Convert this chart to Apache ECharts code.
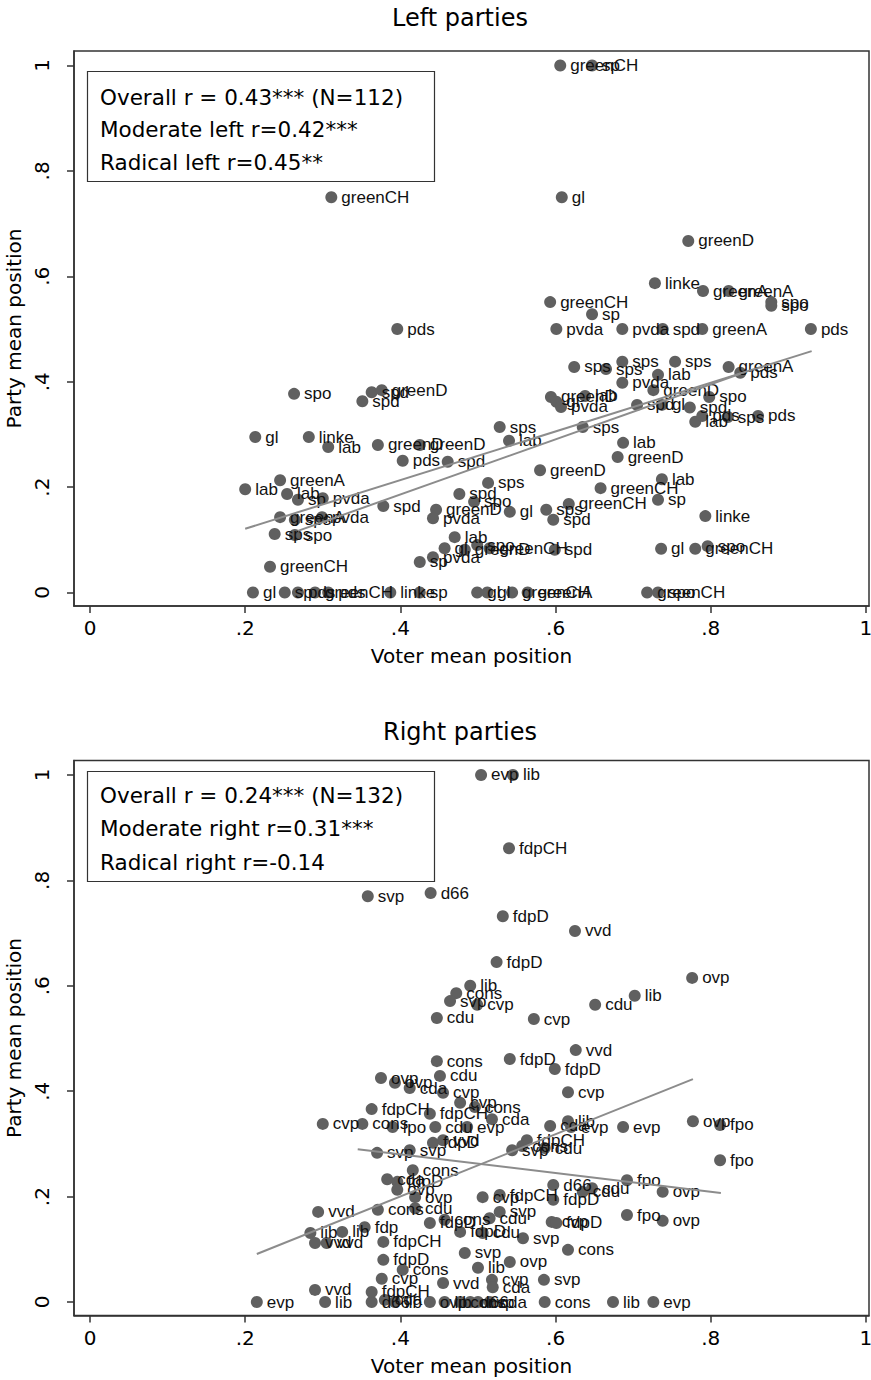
<!DOCTYPE html>
<html>
<head>
<meta charset="utf-8">
<script src="https://cdn.jsdelivr.net/npm/echarts@6/dist/echarts.min.js"></script>
<style>
  html, body { margin: 0; padding: 0; background: #fff; }
  #chart { width: 871px; height: 1380px; }
</style>
</head>
<body>
<div id="chart"></div>
<script>
// tick positions shared by both panels
const ticks = [0, 0.2, 0.4, 0.6, 0.8, 1];

// left parties: voter mean (x), party mean (y), party label
const leftX = [0.606, 0.647, 0.311, 0.608, 0.771, 0.728, 0.790, 0.823, 0.878, 0.878,
  0.593, 0.647, 0.396, 0.601, 0.686, 0.738, 0.789, 0.929, 0.624, 0.665,
  0.686, 0.754, 0.732, 0.686, 0.726, 0.823, 0.838, 0.798, 0.773, 0.780,
  0.789, 0.822, 0.861, 0.705, 0.737, 0.594, 0.601, 0.607, 0.638, 0.528,
  0.540, 0.635, 0.687, 0.680, 0.580, 0.658, 0.737, 0.732, 0.513, 0.617,
  0.476, 0.495, 0.541, 0.588, 0.597, 0.599, 0.736, 0.780, 0.796, 0.793,
  0.210, 0.251, 0.268, 0.290, 0.307, 0.387, 0.425, 0.499, 0.512, 0.544,
  0.564, 0.718, 0.732, 0.200, 0.245, 0.254, 0.268, 0.300, 0.245, 0.264,
  0.299, 0.238, 0.264, 0.232, 0.378, 0.446, 0.442, 0.425, 0.442, 0.457,
  0.470, 0.483, 0.499, 0.515, 0.213, 0.282, 0.307, 0.371, 0.425, 0.403,
  0.461, 0.263, 0.363, 0.376, 0.351];
const leftY = [1.000, 1.000, 0.750, 0.750, 0.667, 0.587, 0.572, 0.572, 0.551, 0.544,
  0.551, 0.528, 0.500, 0.500, 0.500, 0.500, 0.500, 0.500, 0.428, 0.424,
  0.438, 0.438, 0.413, 0.398, 0.384, 0.428, 0.417, 0.371, 0.351, 0.324,
  0.335, 0.333, 0.335, 0.356, 0.356, 0.371, 0.362, 0.352, 0.373, 0.314,
  0.288, 0.314, 0.284, 0.257, 0.232, 0.198, 0.215, 0.176, 0.208, 0.168,
  0.187, 0.172, 0.153, 0.157, 0.138, 0.081, 0.083, 0.083, 0.088, 0.145,
  0, 0, 0, 0, 0, 0, 0, 0, 0, 0,
  0, 0, 0, 0.196, 0.213, 0.187, 0.176, 0.179, 0.143, 0.138,
  0.143, 0.111, 0.109, 0.049, 0.164, 0.157, 0.141, 0.058, 0.067, 0.084,
  0.105, 0.081, 0.090, 0.084, 0.295, 0.295, 0.276, 0.280, 0.280, 0.250,
  0.248, 0.377, 0.380, 0.384, 0.363];
const leftNames = ['greenCH', 'sp', 'greenCH', 'gl', 'greenD', 'linke', 'greenA', 'greenA', 'spo', 'spo',
  'greenCH', 'sp', 'pds', 'pvda', 'pvda', 'spd', 'greenA', 'pds', 'sps', 'sps',
  'sps', 'sps', 'lab', 'pvda', 'greenD', 'greenA', 'pds', 'spo', 'spd', 'lab',
  'pds', 'sps', 'pds', 'spd', 'gl', 'greenD', 'gl', 'pvda', 'lab', 'sps',
  'lab', 'sps', 'lab', 'greenD', 'greenD', 'greenCH', 'lab', 'sp', 'sps', 'greenCH',
  'spd', 'spo', 'gl', 'sps', 'spd', 'spd', 'gl', 'greenCH', 'spo', 'linke',
  'gl', 'sp', 'pds', 'greenCH', 'pds', 'linke', 'sp', 'gl', 'gl', 'greenCH',
  'greenA', 'greenCH', 'spo', 'lab', 'greenA', 'lab', 'sp', 'pvda', 'greenA', 'sps',
  'pvda', 'sps', 'spo', 'greenCH', 'spd', 'greenD', 'pvda', 'sp', 'pvda', 'gl',
  'lab', 'greenD', 'spo', 'greenCH', 'gl', 'linke', 'lab', 'greenD', 'greenD', 'pds',
  'spd', 'spo', 'spd', 'greenD', 'spd'];

// right parties
const rightX = [0.504, 0.545, 0.540, 0.358, 0.439, 0.532, 0.625, 0.524, 0.776, 0.702,
  0.651, 0.490, 0.472, 0.464, 0.499, 0.447, 0.572, 0.626, 0.447, 0.541,
  0.599, 0.451, 0.375, 0.393, 0.412, 0.455, 0.616, 0.363, 0.438, 0.477,
  0.496, 0.300, 0.351, 0.390, 0.445, 0.486, 0.518, 0.593, 0.616, 0.620,
  0.687, 0.777, 0.812, 0.812, 0.563, 0.544, 0.557, 0.586, 0.692, 0.738,
  0.738, 0.692, 0.616, 0.585, 0.586, 0.674, 0.726, 0.215, 0.303, 0.363,
  0.380, 0.393, 0.438, 0.457, 0.477, 0.490, 0.500, 0.515, 0.506, 0.528,
  0.597, 0.597, 0.635, 0.647, 0.595, 0.601, 0.515, 0.528, 0.506, 0.558,
  0.541, 0.500, 0.518, 0.519, 0.294, 0.371, 0.419, 0.284, 0.325, 0.354,
  0.290, 0.305, 0.378, 0.378, 0.376, 0.403, 0.455, 0.290, 0.370, 0.412,
  0.442, 0.455, 0.416, 0.383, 0.396, 0.419, 0.396, 0.438, 0.457, 0.477,
  0.483, 0.363];
const rightY = [1.000, 1.000, 0.861, 0.770, 0.776, 0.732, 0.704, 0.645, 0.615, 0.581,
  0.564, 0.600, 0.586, 0.571, 0.564, 0.539, 0.537, 0.478, 0.457, 0.461,
  0.442, 0.429, 0.425, 0.416, 0.406, 0.397, 0.398, 0.366, 0.357, 0.378,
  0.370, 0.338, 0.338, 0.332, 0.332, 0.332, 0.347, 0.334, 0.343, 0.332,
  0.332, 0.343, 0.336, 0.269, 0.307, 0.288, 0.296, 0.292, 0.231, 0.209,
  0.154, 0.165, 0.099, 0.042, 0, 0, 0, 0, 0, 0,
  0.004, 0, 0, 0, 0, 0, 0, 0, 0.199, 0.203,
  0.222, 0.194, 0.209, 0.216, 0.152, 0.150, 0.159, 0.171, 0.131, 0.121,
  0.076, 0.065, 0.042, 0.028, 0.171, 0.175, 0.178, 0.131, 0.133, 0.142,
  0.112, 0.112, 0.114, 0.080, 0.044, 0.061, 0.036, 0.023, 0.283, 0.288,
  0.302, 0.307, 0.250, 0.233, 0.228, 0.199, 0.213, 0.150, 0.156, 0.133,
  0.093, 0.019];
const rightNames = ['evp', 'lib', 'fdpCH', 'svp', 'd66', 'fdpD', 'vvd', 'fdpD', 'ovp', 'lib',
  'cdu', 'lib', 'cons', 'svp', 'cvp', 'cdu', 'cvp', 'vvd', 'cons', 'fdpD',
  'fdpD', 'cdu', 'ovp', 'ovp', 'cda', 'cvp', 'cvp', 'fdpCH', 'fdpCH', 'cvp',
  'cons', 'cvp', 'cons', 'fpo', 'cdu', 'evp', 'cda', 'cda', 'lib', 'evp',
  'evp', 'ovp', 'fpo', 'fpo', 'fdpCH', 'svp', 'cons', 'cdu', 'fpo', 'ovp',
  'ovp', 'fpo', 'cons', 'svp', 'cons', 'lib', 'evp', 'evp', 'lib', 'd66',
  'cda', 'lib', 'ovp', 'lib', 'cons', 'd66', 'cvp', 'cda', 'cvp', 'fdpCH',
  'd66', 'fdpD', 'cdu', 'cdu', 'cvp', 'fdpD', 'cdu', 'svp', 'cdu', 'svp',
  'ovp', 'lib', 'cvp', 'cda', 'vvd', 'cons', 'cdu', 'lib', 'lib', 'fdp',
  'vvd', 'vvd', 'fdpCH', 'fdpD', 'cvp', 'cons', 'vvd', 'vvd', 'svp', 'svp',
  'fdpD', 'vvd', 'cons', 'cda', 'fdpD', 'ovp', 'ovp', 'fdpD', 'cons', 'fdpD',
  'svp', 'fdpCH'];

// fitted lines (end points)
const leftFit1X = [0.200, 0.930], leftFit1Y = [0.121, 0.458];
const leftFit2X = [0.268, 0.838], leftFit2Y = [0.117, 0.415];
const rightFit1X = [0.215, 0.777], rightFit1Y = [0.091, 0.423];
const rightFit2X = [0.345, 0.813], rightFit2Y = [0.290, 0.207];

const titles = ['Left parties', 'Right parties'];
const boxLines = [
  ['Overall r = 0.43*** (N=112)', 'Moderate left r=0.42***', 'Radical left r=0.45**'],
  ['Overall r = 0.24*** (N=132)', 'Moderate right r=0.31***', 'Radical right r=-0.14']
];

const chart = echarts.init(document.getElementById('chart'), null, { renderer: 'svg' });

const FONT = 'DejaVu Sans';

function tickText(v) {
  if (v === 0) return '0';
  if (v === 1) return '1';
  return String(v).replace('0.', '.');
}

function xAxisFor(i) {
  return {
    gridIndex: i,
    type: 'value',
    min: -0.0206,
    max: 1.0039,
    name: 'Voter mean position',
    nameLocation: 'middle',
    nameGap: 40,
    nameTextStyle: { fontFamily: FONT, fontSize: 20, color: '#000' },
    axisLine: { show: true, onZero: false, lineStyle: { color: '#333', width: 1.5 } },
    axisTick: { show: true, customValues: ticks, length: 7, lineStyle: { color: '#333', width: 1.5 } },
    axisLabel: { customValues: ticks, formatter: tickText, fontFamily: FONT, fontSize: 20, color: '#000', margin: 12 },
    splitLine: { show: false }
  };
}

function yAxisFor(i) {
  return {
    gridIndex: i,
    type: 'value',
    min: -0.0256,
    max: 1.0275,
    name: 'Party mean position',
    nameLocation: 'middle',
    nameGap: 44,
    nameTextStyle: { fontFamily: FONT, fontSize: 20, color: '#000' },
    axisLine: { show: true, onZero: false, lineStyle: { color: '#333', width: 1.5 } },
    axisTick: { show: true, customValues: ticks, length: 7, lineStyle: { color: '#333', width: 1.5 } },
    axisLabel: { customValues: ticks, formatter: tickText, rotate: 90, fontFamily: FONT, fontSize: 20, color: '#000', margin: 22 },
    splitLine: { show: false }
  };
}

function pts(xs, ys, names) {
  return xs.map((x, k) => ({ value: [x, ys[k]], name: names[k] }));
}

function scatterFor(i, data) {
  return {
    type: 'scatter',
    xAxisIndex: i,
    yAxisIndex: i,
    data: data,
    symbolSize: 12,
    itemStyle: { color: '#606060', opacity: 1 },
    label: {
      show: true,
      position: 'right',
      distance: 4,
      formatter: '{b}',
      fontFamily: 'Liberation Sans',
      fontSize: 17,
      color: '#111'
    },
    emphasis: { disabled: true },
    silent: true
  };
}

function fitFor(i, xs, ys) {
  return {
    type: 'line',
    xAxisIndex: i,
    yAxisIndex: i,
    data: xs.map((x, k) => [x, ys[k]]),
    symbol: 'none',
    lineStyle: { color: '#8c8c8c', width: 2 },
    z: 5,
    silent: true
  };
}

const boxTop = [71, 771];
const lineOffsets = [[26, 58, 91], [24, 57, 91]];
const graphic = [];
titles.forEach((t, i) => {
  graphic.push({
    type: 'text',
    x: 460,
    y: i === 0 ? 18 : 732,
    style: { text: t, font: '24px "' + FONT + '"', fill: '#000', align: 'center', verticalAlign: 'middle' }
  });
  graphic.push({
    type: 'rect',
    shape: { x: 87.5, y: boxTop[i] + 0.5, width: 347, height: 110 },
    style: { fill: '#fff', stroke: '#333', lineWidth: 1.2 },
    z: 10
  });
  boxLines[i].forEach((line, k) => {
    graphic.push({
      type: 'text',
      x: 100,
      y: boxTop[i] + lineOffsets[i][k],
      style: { text: line, font: '21.5px "' + FONT + '"', fill: '#000', align: 'left', verticalAlign: 'middle' },
      z: 11
    });
  });
});

const gridBase = {
  left: 74, width: 795, height: 555,
  outerBoundsMode: 'none',
  containLabel: false,
  show: true, borderColor: '#333', borderWidth: 1.5, backgroundColor: 'transparent'
};

const option = {
  backgroundColor: '#fff',
  animation: false,
  grid: [
    Object.assign({}, gridBase, { top: 51 }),
    Object.assign({}, gridBase, { top: 760.5 })
  ],
  xAxis: [xAxisFor(0), xAxisFor(1)],
  yAxis: [yAxisFor(0), yAxisFor(1)],
  series: [
    scatterFor(0, pts(leftX, leftY, leftNames)),
    fitFor(0, leftFit1X, leftFit1Y),
    fitFor(0, leftFit2X, leftFit2Y),
    scatterFor(1, pts(rightX, rightY, rightNames)),
    fitFor(1, rightFit1X, rightFit1Y),
    fitFor(1, rightFit2X, rightFit2Y)
  ],
  graphic: graphic
};

chart.setOption(option);
</script>
</body>
</html>
